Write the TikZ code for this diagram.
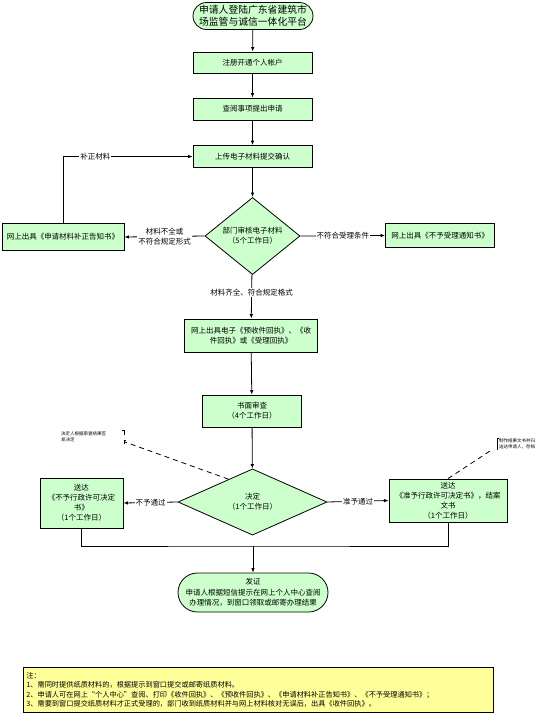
\documentclass[tikz,border=0pt]{standalone}
\usepackage{fontspec}
\setmainfont{Noto Sans CJK SC}
\usetikzlibrary{shapes.geometric,arrows.meta,calc}
\definecolor{boxgreen}{RGB}{204,255,204}
\definecolor{noteyellow}{RGB}{255,255,153}
\begin{document}
\begin{tikzpicture}[x=1pt,y=1pt]
                \tikzstyle{every node}+=[inner sep=0pt]
                \tikzset{
                  stepbox/.style={draw,fill=boxgreen,line width=0.8pt,align=center,font=\fontsize{7.5}{10}\selectfont},
                  termbox/.style={stepbox},
                  judge/.style={diamond,stepbox},
                  flow/.style={-{Latex[length=4.5pt,width=3.5pt]},line width=0.8pt},
                  plain/.style={line width=0.8pt},
                  lbl/.style={fill=white,inner sep=1pt,align=center,font=\fontsize{7.5}{10}\selectfont},
                  remark/.style={align=left,font=\fontsize{4.5}{6.5}\selectfont}
                }
                \useasboundingbox (0,0) rectangle (546,-716);
                \node [termbox,minimum width=120pt,minimum height=27pt,rounded corners=13.5pt,font=\fontsize{9.8}{12}\selectfont] (start) at (253,-16) {申请人登陆广东省建筑市\\场监管与诚信一体化平台};
                \node [stepbox,minimum width=119pt,minimum height=21pt] (account) at (252.5,-62.5) {注册开通个人帐户};
                \node [stepbox,minimum width=119pt,minimum height=22pt] (apply) at (252.5,-109) {查阅事项提出申请};
                \node [stepbox,minimum width=119pt,minimum height=22pt] (upload) at (252.5,-156.5) {上传电子材料提交确认};
                \node [judge,minimum width=95pt,minimum height=72pt] (check) at (252.5,-236) {部门审核电子材料\\（5个工作日）};
                \node [stepbox,minimum width=122pt,minimum height=27pt] (supplement) at (63,-237) {网上出具《申请材料补正告知书》};
                \node [stepbox,minimum width=109pt,minimum height=24pt] (refuse) at (440,-235.5) {网上出具《不予受理通知书》};
                \node [stepbox,minimum width=133pt,minimum height=33pt] (receipt) at (251,-335.5) {网上出具电子《预收件回执》、《收\\件回执》或《受理回执》};
                \node [stepbox,minimum width=99pt,minimum height=32pt] (review) at (252,-411) {书面审查\\（4个工作日）};
                \node [judge,minimum width=149pt,minimum height=53pt] (decide) at (252.5,-502) {决定\\（1个工作日）};
                \node [stepbox,minimum width=83pt,minimum height=50pt] (deny) at (81.5,-503) {送达\\《不予行政许可决定\\书》\\（1个工作日）};
                \node [stepbox,minimum width=118pt,minimum height=43pt] (grant) at (448,-500.5) {送达\\《准予行政许可决定书》，结案\\文书\\（1个工作日）};
                \node [termbox,minimum width=150pt,minimum height=39pt,rounded corners=19.5pt,font=\fontsize{7.5}{10.5}\selectfont] (license) at (253,-592.5) {发证\\申请人根据短信提示在网上个人中心查阅\\办理情况，到窗口领取或邮寄办理结果};
                \node [draw,fill=noteyellow,line width=0.8pt,anchor=north west,minimum width=470pt,minimum height=45pt,text width=464pt,inner sep=3pt,align=left,font=\fontsize{7.2}{9.5}\selectfont] (notes) at (23,-667) {注：\\1、需同时提供纸质材料的，根据提示到窗口提交或邮寄纸质材料。\\2、申请人可在网上“个人中心”查阅、打印《收件回执》、《预收件回执》、《申请材料补正告知书》、《不予受理通知书》；\\3、需要到窗口提交纸质材料才正式受理的，部门收到纸质材料并与网上材料核对无误后，出具《收件回执》。};

                \draw [flow] (start) -- (account);
                \draw [flow] (account) -- (apply);
                \draw [flow] (apply) -- (upload);
                \draw [flow] (upload) -- (check);
                \draw [flow] (check) -- node [lbl,pos=0.4] {材料齐全、符合规定格式} (receipt);
                \draw [flow] (check.west) -- node [lbl] {材料不全或\\不符合规定形式} (supplement.east);
                \draw [flow] (check.east) -- node [lbl] {不符合受理条件} (refuse.west);
                \draw [flow] (supplement.north) |- node [lbl,pos=0.625] {补正材料} (upload.west);
                \draw [flow] (receipt) -- (review);
                \draw [flow] (review) -- (decide);
                \draw [flow] (decide.west) -- node [lbl] {不予通过} (deny.east);
                \draw [flow] (decide.east) -- node [lbl] {准予通过} (grant.west);

                \coordinate (merge) at (license.north |- 0,-546);
                \draw [plain] (deny.south) |- (merge) -| (grant.south);
                \draw [flow] (merge) -- (license.north);

                % remarks
                \coordinate (signnote) at (125,-442);
                \draw [plain,dashed,dash pattern=on 5pt off 4pt] ($(decide.west)!0.68!(decide.north)$) -- (signnote);
                \draw [line width=0.6pt] (122,-430) -- (124,-430) -- (124,-435);
                \draw [line width=0.6pt] (124,-444) -- (124,-440) -- (126,-440);
                \node [remark,anchor=west] (signtext) at (61,-437) {决定人根据审查结果签\\发决定};
                \coordinate (filenote) at (493,-449);
                \draw [plain,dashed,dash pattern=on 5pt off 4pt] (grant.north) -- (filenote);
                \draw [line width=0.6pt] (499,-438) -- (497,-438) -- (497,-450);
                \node [remark,anchor=west] (filetext) at (499,-444) {制作结果文书并归\\送达申请人，存档};
            \end{tikzpicture}
\end{document}
